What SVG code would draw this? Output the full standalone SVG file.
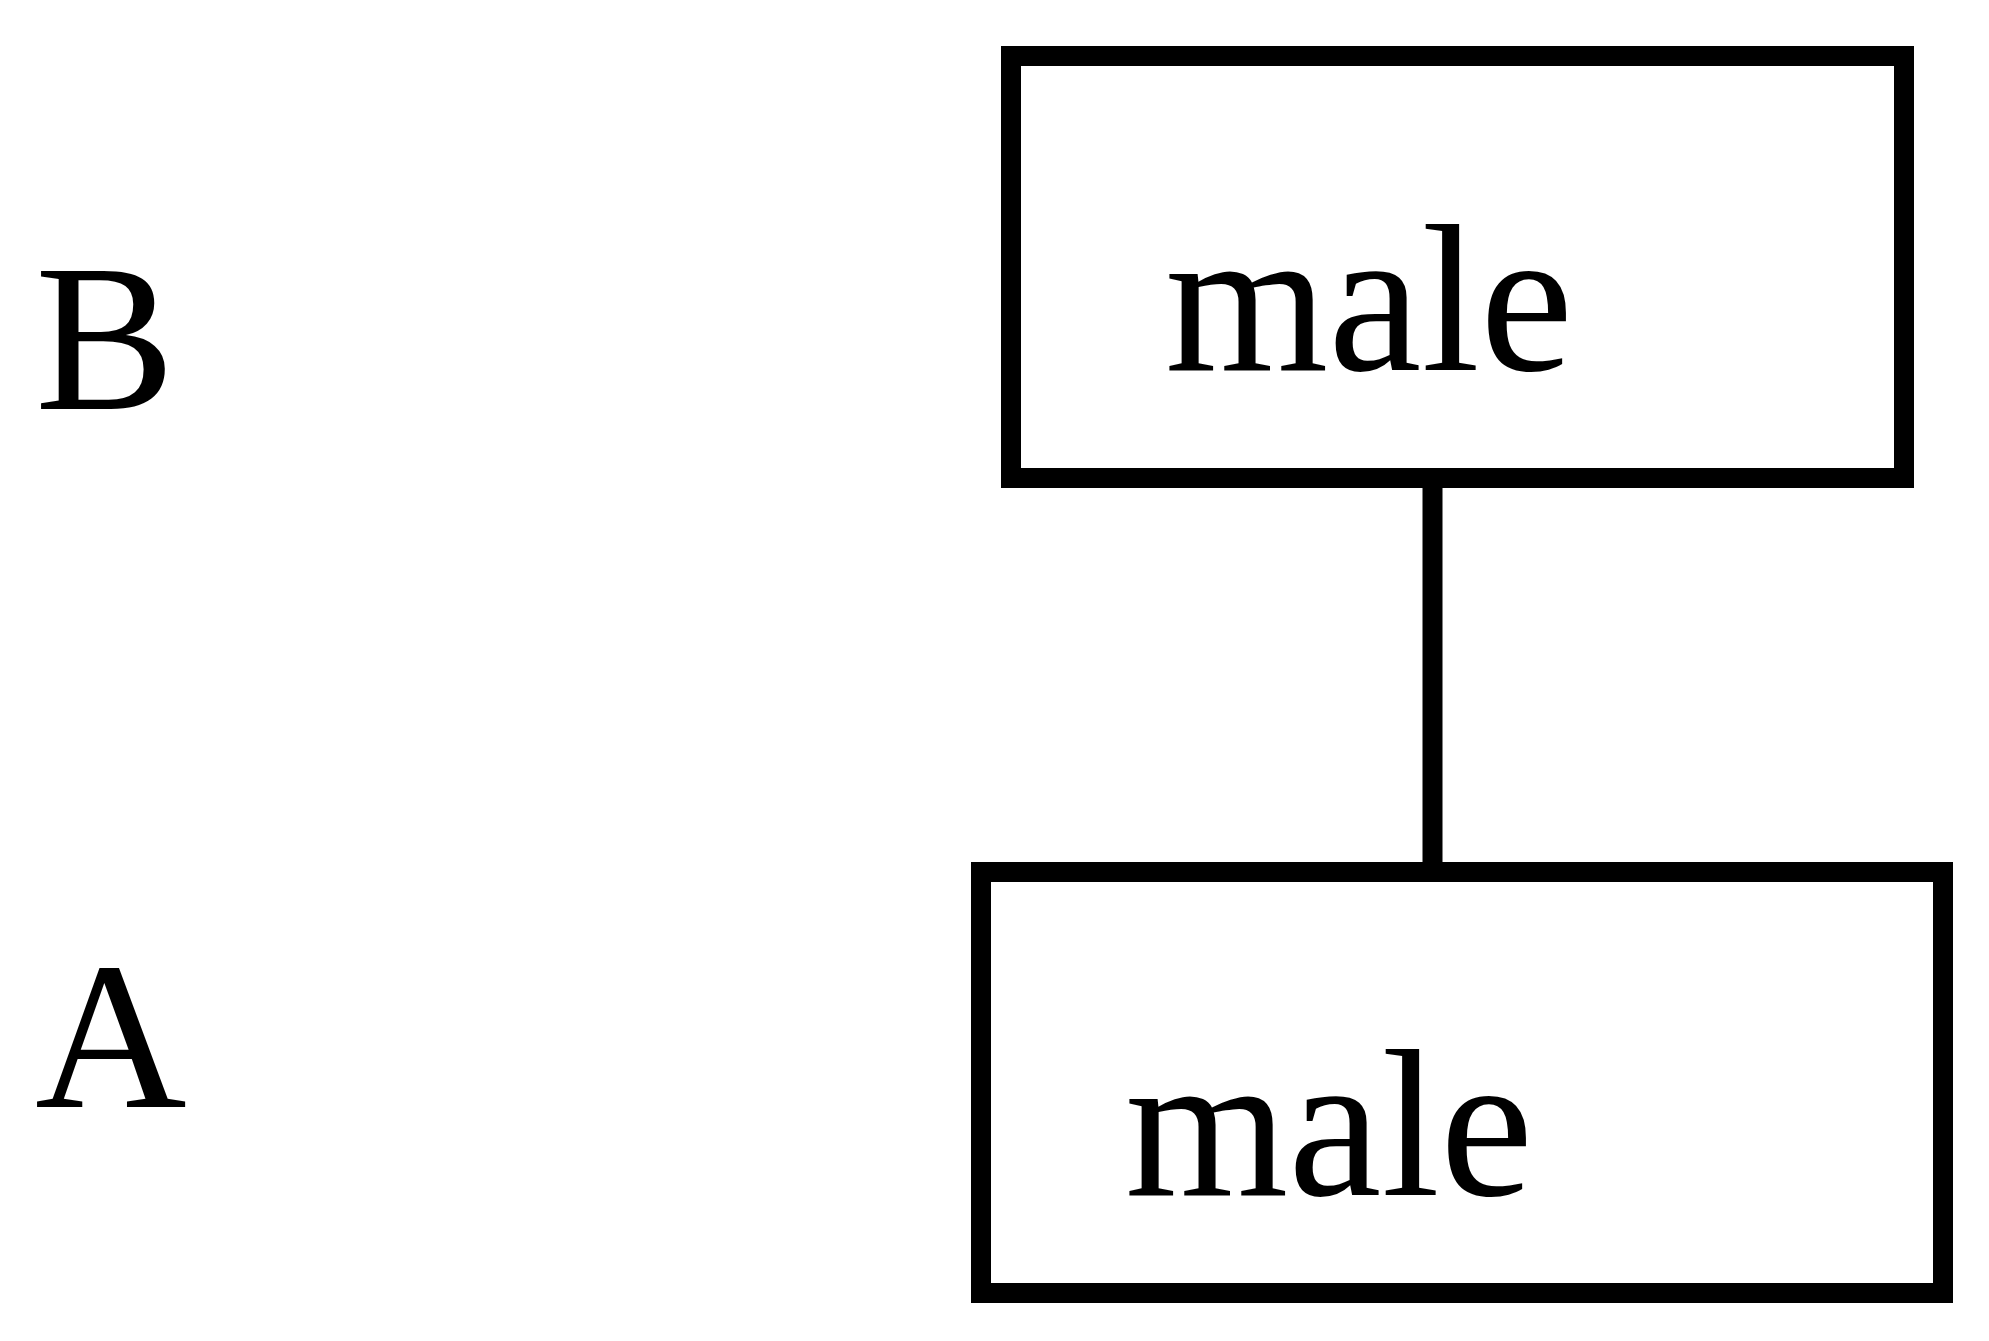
<svg xmlns="http://www.w3.org/2000/svg" width="1989" height="1341" viewBox="0 0 1989 1341">
<style>
.box{fill:none;stroke:#000;stroke-width:20}
.edge{stroke:#000;stroke-width:20;fill:none}
.t{font-family:"Liberation Serif","Times New Roman",serif;font-size:210px;fill:#000}
</style>
<rect width="1989" height="1341" fill="#fff"/>
<g id="label-B"><text class="t" x="35" y="409">B</text></g>
<g id="label-A"><text class="t" x="35" y="1107">A</text></g>
<g id="connectors">
<line class="edge" x1="1432.5" y1="478" x2="1432.5" y2="872"/>
</g>
<g id="node-top">
<rect class="box" x="1011" y="56" width="893" height="422"/>
<text class="t" x="1165" y="370">male</text>
</g>
<g id="node-bottom">
<rect class="box" x="981" y="872" width="962" height="421"/>
<text class="t" x="1125" y="1195">male</text>
</g>
</svg>
